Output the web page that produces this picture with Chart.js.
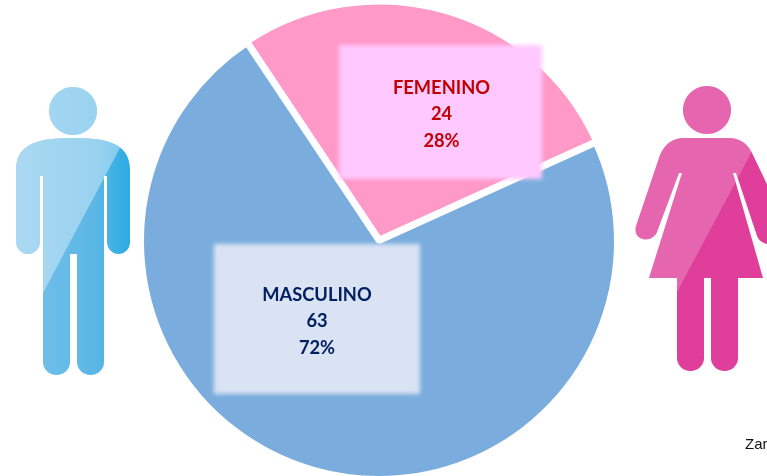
<!DOCTYPE html>
<html>
<head>
<meta charset="utf-8">
<script src="https://cdn.jsdelivr.net/npm/chart.js@4"></script>
<style>
    html, body { margin: 0; padding: 0; background: #fff; width: 767px; height: 476px; overflow: hidden; }
    #wrap { position: relative; width: 767px; height: 476px; overflow: hidden; }
    #chartGender { position: absolute; left: 0; top: -3px; }
    svg { position: absolute; left: 0; top: 0; }
    .box { position: absolute; filter: blur(2px); }
    .lbl { position: absolute; text-align: center; font: bold 18.3px Lato, "Open Sans", sans-serif; line-height: 26.4px; }
    #source { position: absolute; left: 745px; top: 435px; font: 15px "Liberation Sans", Arial, sans-serif; color: #111; white-space: nowrap; }
</style>
</head>
<body>
<div id="wrap">
    <svg width="767" height="476" viewBox="0 0 767 476">
        <defs>
            <linearGradient id="manFill" gradientUnits="userSpaceOnUse" x1="16" y1="0" x2="130" y2="0">
                <stop offset="0" stop-color="#78c1ea"/>
                <stop offset="0.7" stop-color="#5bb7e6"/>
                <stop offset="1" stop-color="#29abe2"/>
            </linearGradient>
            <clipPath id="manShine"><path d="M0 80H156L43 293L0 380Z"/></clipPath>
            <clipPath id="womanShine"><path d="M625 80H790L677 292L625 380Z"/></clipPath>
            <path id="man" d="M73 87a24 24 0 1 1-.01 0ZM73 138c30 0 57 3 57 32v72a11.500 12 0 0 1-23 0V176h-3V362a13.500 13 0 0 1-27 0V254h-7V362a13.500 13 0 0 1-27 0V176h-3V242a12 12 0 0 1-24 0V170c0-29 27-32 57-32Z"/>
            <path id="woman" d="M707 86a24 24 0 1 1-.01 0ZM684 138H729c12 0 20 7 24 17L790 232c4 14-28 18-33 4L736 173H733L763 278H738V358a13.500 13 0 0 1-27 0V278H704V358a13.500 13 0 0 1-27 0V278H649L682 173H679L657 232c-5 12-25 9-21-6L660 155c4-10 12-17 24-17Z"/>
        </defs>
        <use href="#man" fill="url(#manFill)"/>
        <use href="#man" fill="#fff" fill-opacity="0.38" clip-path="url(#manShine)"/>
        <use href="#woman" fill="#df3f9b"/>
        <use href="#woman" fill="#fff" fill-opacity="0.2" clip-path="url(#womanShine)"/>
    </svg>
    <canvas id="chartGender" width="758" height="488"></canvas>
    <div class="box" style="left:339px;top:45px;width:203px;height:134px;background:#ffc9ff"></div>
    <div class="box" style="left:214px;top:244px;width:206px;height:150px;background:#dae3f3"></div>
    <div class="lbl" id="lblMasculino" style="left:214px;top:281px;width:206px;color:#002060"></div>
    <div class="lbl" id="lblFemenino" style="left:339px;top:74px;width:205px;color:#c00000"></div>
    <div id="source">Zar</div>
</div>
<script>
var categories = ['MASCULINO', 'FEMENINO'];
var totals = [63, 24];
var percents = ['72%', '28%'];
var sliceColors = ['#7aaddd', '#ff99c8'];
var sliceOffsets = [0, 6];

function fillLabel(id, i) {
    document.getElementById(id).innerHTML = categories[i] + '<br>' + totals[i] + '<br>' + percents[i];
}

fillLabel('lblMasculino', 0);
fillLabel('lblFemenino', 1);

var ctx = document.getElementById('chartGender');
new Chart(ctx, {
    type: 'pie',
    data: {
        labels: categories,
        datasets: [{
            data: totals,
            backgroundColor: sliceColors,
            borderColor: '#ffffff',
            borderWidth: 6,
            offset: sliceOffsets
        }]
    },
    options: {
        responsive: false,
        animation: false,
        rotation: 65.6,
        layout: { padding: 0 },
        plugins: {
            legend: { display: false },
            tooltip: { enabled: false }
        }
    }
});
</script>
</body>
</html>
